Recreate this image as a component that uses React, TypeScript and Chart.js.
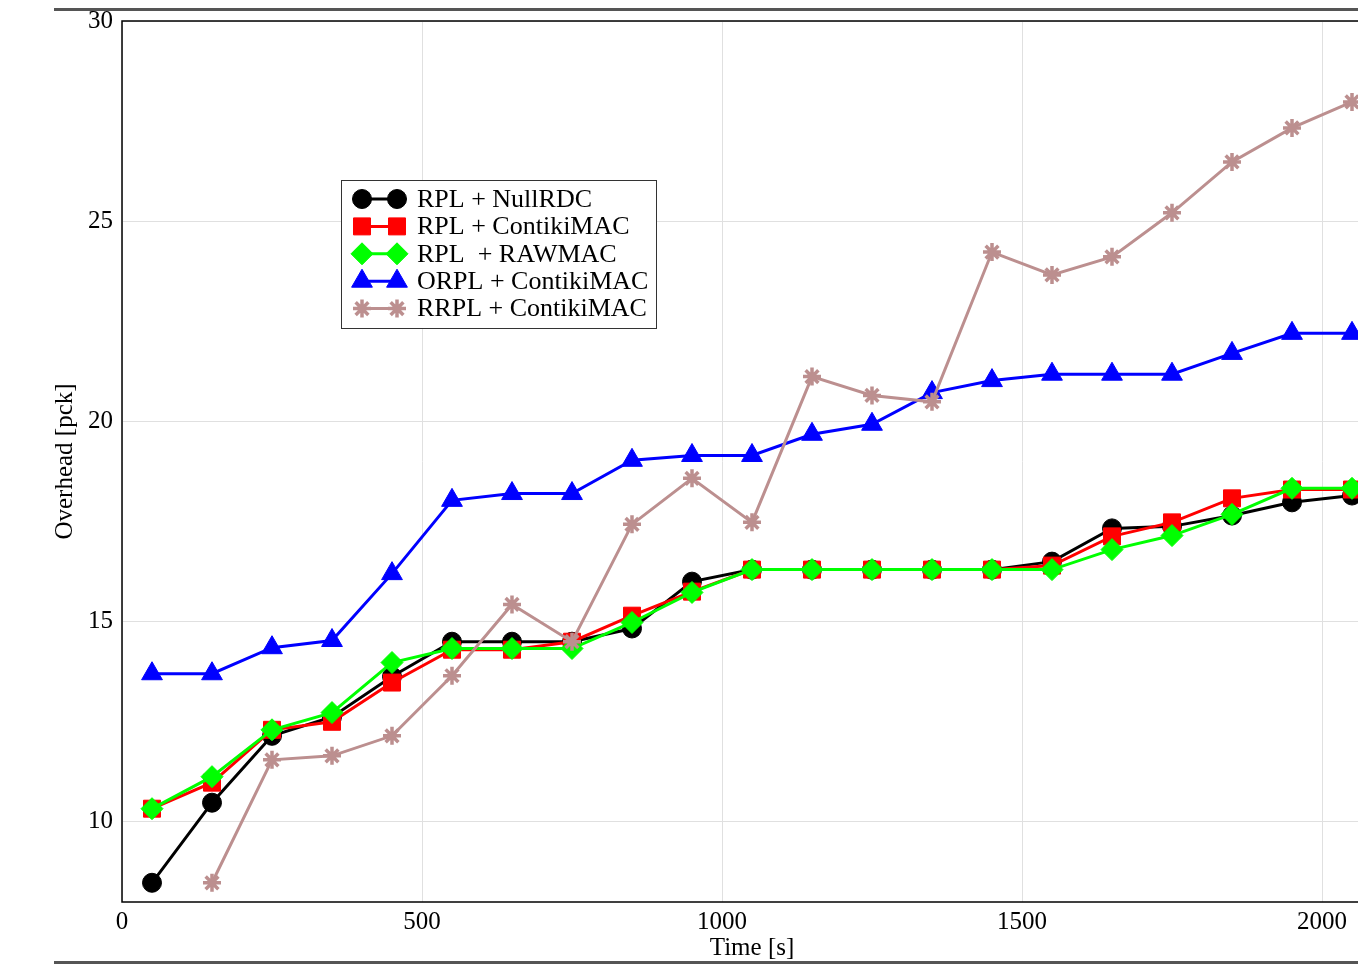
import React, { useEffect, useRef } from 'react';
import { Chart, registerables } from 'chart.js';
import { drawPoint } from 'chart.js/helpers';

Chart.register(...registerables);

const timeValues = [50, 150, 250, 350, 450, 550, 650, 750, 850, 950, 1050, 1150, 1250, 1350, 1450, 1550, 1650, 1750, 1850, 1950, 2050];

const rplNullRdc = [8.48, 10.48, 12.15, 12.62, 13.63, 14.5, 14.5, 14.5, 14.83, 16.0, 16.3, 16.3, 16.3, 16.3, 16.3, 16.5, 17.33, 17.38, 17.65, 17.98, 18.15];
const rplContikiMac = [10.33, 10.98, 12.3, 12.5, 13.48, 14.3, 14.3, 14.5, 15.15, 15.75, 16.3, 16.3, 16.3, 16.3, 16.3, 16.4, 17.13, 17.48, 18.08, 18.3, 18.3];
const rplRawMac = [10.33, 11.13, 12.3, 12.73, 13.98, 14.33, 14.33, 14.33, 14.98, 15.73, 16.3, 16.3, 16.3, 16.3, 16.3, 16.3, 16.8, 17.15, 17.68, 18.33, 18.33];
const orplContikiMac = [13.7, 13.7, 14.35, 14.53, 16.2, 18.03, 18.2, 18.2, 19.03, 19.15, 19.15, 19.68, 19.93, 20.72, 21.02, 21.18, 21.18, 21.18, 21.7, 22.2, 22.2];
const rrplContikiMac = [null, 8.48, 11.55, 11.65, 12.15, 13.65, 15.43, 14.5, 17.43, 18.58, 17.48, 21.12, 20.65, 20.49, 24.23, 23.66, 24.11, 25.21, 26.48, 27.33, 27.98];

const seriesLabels = ['RPL + NullRDC', 'RPL + ContikiMAC', 'RPL  + RAWMAC', 'ORPL + ContikiMAC', 'RRPL + ContikiMAC'];
const seriesColors = ['#000000', '#ff0000', '#00ff00', '#0000ff', '#bc8f8f'];
const seriesStyles = ['circle', 'rect', 'rectRot', 'triangle', 'star'];
const seriesRadii = [9.5, 12, 11, 12, 9];
const seriesMarkerBorder = [1, 1, 1, 1, 3.5];
const seriesOrder = [4, 3, 2, 1, 0];

const xTicks = [0, 500, 1000, 1500, 2000];
const yTicks = [10, 15, 20, 25, 30];
const xTitle = 'Time [s]';
const yTitle = 'Overhead [pck]';

const FONT = "'Liberation Serif', 'Times New Roman', serif";

const seriesValues = [rplNullRdc, rplContikiMac, rplRawMac, orplContikiMac, rrplContikiMac];

const decorPlugin = {
  id: 'decor',
  beforeDatasetsDraw(chart: any) {
    const { ctx, chartArea } = chart;
    ctx.save();
    ctx.strokeStyle = '#000';
    ctx.lineWidth = 1.5;
    ctx.strokeRect(chartArea.left, chartArea.top, chartArea.right - chartArea.left, chartArea.bottom - chartArea.top);
    ctx.restore();
  },
  afterDraw(chart: any) {
    const { ctx } = chart;
    ctx.save();
    // page rules
    ctx.fillStyle = '#555555';
    ctx.fillRect(54, 8, 1400, 3);
    ctx.fillRect(54, 961, 1400, 3);

    // legend box
    const bx = 341.5, by = 180.5, bw = 315, bh = 148;
    ctx.fillStyle = '#ffffff';
    ctx.fillRect(bx, by, bw, bh);
    ctx.strokeStyle = '#333333';
    ctx.lineWidth = 1;
    ctx.strokeRect(bx, by, bw, bh);

    const rowY0 = 199;
    const rowStep = 27.4;
    ctx.font = `26px ${FONT}`;
    ctx.textBaseline = 'middle';
    ctx.textAlign = 'left';
    seriesLabels.forEach((label, i) => {
      const y = rowY0 + i * rowStep;
      const color = seriesColors[i];
      ctx.strokeStyle = color;
      ctx.lineWidth = 3;
      ctx.beginPath();
      ctx.moveTo(362, y);
      ctx.lineTo(397, y);
      ctx.stroke();
      ctx.fillStyle = color;
      ctx.lineWidth = seriesMarkerBorder[i];
      const opts = { pointStyle: seriesStyles[i], radius: seriesRadii[i], borderWidth: seriesMarkerBorder[i], rotation: 0 };
      drawPoint(ctx, opts as any, 362, y);
      drawPoint(ctx, opts as any, 397, y);
      ctx.fillStyle = '#000';
      ctx.fillText(label, 417, y + 1);
    });
    ctx.restore();
  },
};

export default function App() {
  const canvasRef = useRef<HTMLCanvasElement | null>(null);

  useEffect(() => {
    const canvas = canvasRef.current;
    if (!canvas) return;
    Chart.defaults.font.family = FONT;
    Chart.defaults.color = '#000';

    const datasets = seriesLabels.map((label, i) => ({
      label,
      data: timeValues.map((t, j) => ({ x: t, y: seriesValues[i][j] })),
      borderColor: seriesColors[i],
      backgroundColor: seriesColors[i],
      pointBackgroundColor: seriesColors[i],
      pointBorderColor: seriesColors[i],
      pointStyle: seriesStyles[i],
      pointRadius: seriesRadii[i],
      pointHoverRadius: seriesRadii[i],
      pointBorderWidth: seriesMarkerBorder[i],
      borderWidth: 3,
      tension: 0,
      fill: false,
      order: seriesOrder[i],
      clip: false as any,
    }));

    const chart = new Chart(canvas, {
      type: 'line',
      data: { datasets: datasets as any },
      options: {
        responsive: false,
        animation: false,
        devicePixelRatio: 1,
        layout: { padding: { left: 0, right: 18, top: 21, bottom: 0 } },
        plugins: { legend: { display: false }, tooltip: { enabled: false } },
        scales: {
          x: {
            type: 'linear',
            min: 0,
            max: 2100,
            afterBuildTicks: (scale: any) => {
              scale.ticks = xTicks.map((v) => ({ value: v }));
            },
            afterFit: (scale: any) => {
              scale.height = 62;
              scale.paddingLeft = 0;
              scale.paddingRight = 0;
            },
            ticks: {
              font: { size: 25 },
              color: '#000',
              padding: 5,
              maxRotation: 0,
              autoSkip: false,
              callback: (v: any) => String(v),
            },
            grid: { color: '#e0e0e0', lineWidth: 1, drawTicks: false },
            border: { display: false },
            title: { display: true, text: xTitle, font: { size: 25 }, color: '#000', padding: { top: 0, bottom: 1 } },
          },
          y: {
            type: 'linear',
            min: 8,
            max: 30,
            afterBuildTicks: (scale: any) => {
              scale.ticks = yTicks.map((v) => ({ value: v }));
            },
            afterFit: (scale: any) => {
              scale.width = 122;
              scale.paddingTop = 0;
              scale.paddingBottom = 0;
            },
            ticks: {
              font: { size: 25 },
              color: '#000',
              padding: 9,
              autoSkip: false,
              callback: (v: any) => String(v),
            },
            grid: { color: '#e0e0e0', lineWidth: 1, drawTicks: false },
            border: { display: false },
            title: { display: true, text: yTitle, font: { size: 25 }, color: '#000', padding: { top: 50, bottom: 0 } },
          },
        },
      },
      plugins: [decorPlugin],
    });
    return () => chart.destroy();
  }, []);

  return (
    <div style={{ position: 'absolute', left: 0, top: 0, width: 1358, height: 964, overflow: 'hidden', background: '#fff' }}>
      <canvas ref={canvasRef} width={1400} height={964} style={{ display: 'block' }} />
    </div>
  );
}
